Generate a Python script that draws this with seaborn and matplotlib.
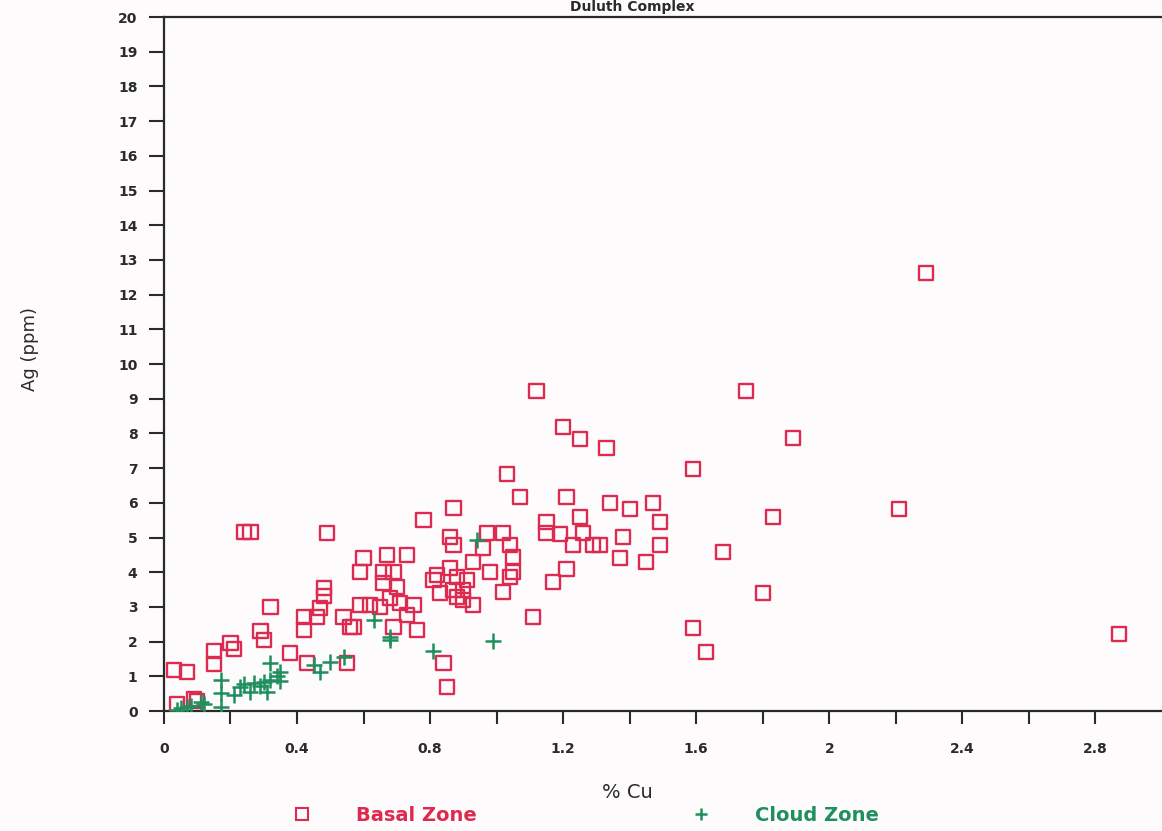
import matplotlib
matplotlib.use("Agg")
import matplotlib.pyplot as plt
from matplotlib.lines import Line2D
import seaborn as sns
import numpy as np
import pandas as pd

# Basal Zone (red squares): % Cu, Ag ppm
basal_cu = [0.03, 0.07, 0.04, 0.09, 0.10, 0.15, 0.15, 0.20, 0.21, 0.29,
            0.30, 0.32, 0.38, 0.24, 0.26, 0.49, 0.43, 0.42, 0.42, 0.46,
            0.47, 0.48, 0.48, 0.54, 0.55, 0.56, 0.57, 0.59, 0.59, 0.60,
            0.62, 0.65, 0.67, 0.73, 0.66, 0.69, 0.66, 0.70, 0.68, 0.71,
            0.75, 0.73, 0.69, 0.76, 0.78, 0.87, 0.86, 0.87, 0.97, 1.02,
            0.96, 1.04, 1.05, 0.93, 0.82, 0.86, 0.98, 1.05, 1.04, 0.81,
            0.88, 0.91, 0.83, 0.87, 0.90, 1.02, 0.88, 0.90, 0.93, 1.11,
            0.84, 0.85, 1.12, 1.20, 1.25, 1.33, 1.03, 1.07, 1.21, 1.34,
            1.40, 1.47, 1.49, 1.15, 1.15, 1.19, 1.25, 1.26, 1.23, 1.29,
            1.31, 1.38, 1.49, 1.37, 1.45, 1.21, 1.17, 1.59, 1.59, 1.63,
            1.75, 1.89, 1.68, 1.83, 1.80, 2.21, 2.29, 2.87]
basal_ag = [1.18, 1.12, 0.20, 0.35, 0.29, 1.73, 1.35, 1.96, 1.79, 2.31,
            2.05, 3.00, 1.67, 5.16, 5.16, 5.13, 1.38, 2.33, 2.71, 2.71,
            2.97, 3.54, 3.31, 2.71, 1.38, 2.42, 2.42, 3.05, 4.01, 4.41,
            3.05, 3.00, 4.50, 4.50, 4.01, 4.01, 3.69, 3.57, 3.26, 3.11,
            3.05, 2.77, 2.42, 2.33, 5.50, 5.85, 5.01, 4.78, 5.13, 5.13,
            4.70, 4.78, 4.44, 4.29, 3.92, 4.12, 4.01, 4.01, 3.86, 3.78,
            3.86, 3.78, 3.40, 3.49, 3.49, 3.43, 3.29, 3.20, 3.05, 2.71,
            1.38, 0.69, 9.22, 8.18, 7.84, 7.58, 6.83, 6.17, 6.17, 5.99,
            5.82, 5.99, 5.45, 5.45, 5.13, 5.10, 5.59, 5.13, 4.78, 4.78,
            4.78, 5.01, 4.78, 4.41, 4.29, 4.09, 3.72, 6.97, 2.39, 1.70,
            9.22, 7.87, 4.58, 5.59, 3.40, 5.82, 12.62, 2.22]

# Cloud Zone (green crosses)
cloud_cu = [0.17, 0.17, 0.17, 0.21, 0.23, 0.24, 0.26, 0.27, 0.29, 0.30,
            0.31, 0.32, 0.32, 0.34, 0.35, 0.35, 0.45, 0.47, 0.50, 0.54,
            0.63, 0.68, 0.68, 0.81, 0.94, 0.99, 0.05, 0.07, 0.08, 0.11,
            0.12, 0.04]
cloud_ag = [0.89, 0.52, 0.12, 0.46, 0.69, 0.78, 0.55, 0.81, 0.72, 0.84,
            0.55, 0.89, 1.38, 1.01, 0.86, 1.12, 1.33, 1.12, 1.41, 1.56,
            2.62, 2.13, 2.05, 1.73, 4.93, 2.02, 0.09, 0.12, 0.14, 0.26,
            0.20, 0.03]

zone_names = ["Basal Zone", "Cloud Zone"]
x_ticks = [0, 0.2, 0.4, 0.6, 0.8, 1.0, 1.2, 1.4, 1.6, 1.8, 2.0, 2.2, 2.4, 2.6, 2.8]
x_tick_labels = ["0", "", "0.4", "", "0.8", "", "1.2", "", "1.6", "", "2", "", "2.4", "", "2.8"]
y_ticks = list(range(0, 21))

RED = "#dc2a50"
GREEN = "#1f8f5e"
INK = "#2a2a2a"

sns.set_theme(style="ticks")
plt.rcParams["font.family"] = ["DejaVu Sans"]

basal = pd.DataFrame({"cu": basal_cu, "ag": basal_ag})
cloud = pd.DataFrame({"cu": cloud_cu, "ag": cloud_ag})

fig = plt.figure(figsize=(11.62, 8.31), dpi=100, facecolor="#fdfbfb")
ax = fig.add_axes([0.1411, 0.1444, 0.8589, 0.8351])
ax.set_facecolor("#fdfbfb")

sns.scatterplot(data=basal, x="cu", y="ag", ax=ax, marker="s", s=105,
                facecolors="none", edgecolor=RED, linewidth=1.7, legend=False, zorder=3)
sns.scatterplot(data=cloud, x="cu", y="ag", ax=ax, marker="+", s=140,
                color=GREEN, linewidth=1.8, legend=False, zorder=4)

ax.set_xlim(0, 3.0)
ax.set_ylim(0, 20)
ax.set_xticks(x_ticks)
ax.set_xticklabels(x_tick_labels)
ax.set_yticks(y_ticks)
ax.set_yticklabels([str(v) for v in y_ticks])
ax.tick_params(axis="y", direction="out", length=11, width=1.5, color=INK,
               labelsize=10, pad=8, labelcolor=INK)
ax.tick_params(axis="x", direction="out", length=9, width=1.5, color=INK,
               labelsize=10, pad=13, labelcolor=INK)
for lab in ax.get_xticklabels() + ax.get_yticklabels():
    lab.set_fontweight("bold")

ax.spines["right"].set_visible(False)
for side in ["left", "top", "bottom"]:
    ax.spines[side].set_color(INK)
    ax.spines[side].set_linewidth(1.6)

ax.set_xlabel("")
ax.set_ylabel("")
fig.text(0.540, 0.046, "% Cu", ha="center", va="center", fontsize=14, color=INK)
fig.text(0.026, 0.58, "Ag (ppm)", ha="center", va="center", rotation=90,
         fontsize=13, color=INK)
fig.text(0.544, 0.992, "Duluth Complex", ha="center", va="center",
         fontsize=10, fontweight="bold", color=INK)

handles = [
    Line2D([], [], marker="s", linestyle="none", markersize=8,
           markerfacecolor="none", markeredgecolor=RED, markeredgewidth=1.5),
    Line2D([], [], marker="+", linestyle="none", markersize=9,
           color=GREEN, markeredgewidth=1.8),
]
leg = fig.legend(handles, zone_names, loc="center", bbox_to_anchor=(0.504, 0.019),
                 ncol=2, frameon=False, handletextpad=2.3,
                 columnspacing=11.0, handlelength=1.0,
                 prop={"size": 14, "weight": "bold"})
for txt, col in zip(leg.get_texts(), [RED, GREEN]):
    txt.set_color(col)

fig.savefig("out.png", dpi=100, facecolor=fig.get_facecolor())
